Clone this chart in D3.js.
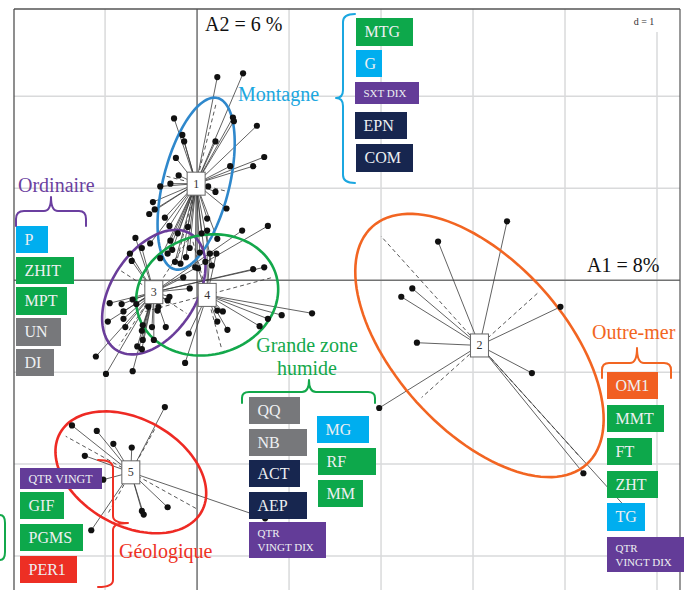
<!DOCTYPE html>
<html><head><meta charset="utf-8">
<script src="https://cdn.jsdelivr.net/npm/d3@7"></script>
<style>body{margin:0;background:#fff}svg{display:block}svg text{font-family:"Liberation Serif","Times New Roman","DejaVu Serif",serif}</style>
</head><body>
<svg id="c" width="685" height="590"></svg>
<script>
// ---------------- DATA ----------------
const classIds = ["1", "2", "3", "4", "5"];
const centerX = [-0.01, 3.07, -0.47, 0.11, -0.72];
const centerY = [1.05, -0.71, -0.13, -0.16, -2.09];
const ellipseA = [0.96, 1.74, 0.75, 0.78, 0.88];
const ellipseB = [0.36, 0.92, 0.46, 0.65, 0.58];
const ellipseAngle = [76, -48, 57, 15, -29];
const points1 = [[0.22,2.21],[0.50,2.25],[-0.25,1.76],[0.39,1.77],[0.40,1.73],[0.65,1.68],[-0.16,1.58],[-0.14,1.51],[0.20,1.51],[0.73,1.34],[-0.23,1.33],[0.36,1.24],[0.61,1.24],[-0.20,1.14],[-0.29,1.05],[-0.40,1.02],[0.12,1.02],[0.20,0.96],[-0.48,0.85],[0.32,0.78],[-0.46,0.77],[-0.52,0.72],[-0.35,0.68],[0.11,0.67],[-0.30,0.59],[-0.10,0.58],[0.05,0.51],[-0.29,0.43],[0.22,0.45],[-0.08,0.35],[-0.21,0.51],[-0.32,0.29],[-0.18,0.18],[-0.02,0.14],[-0.51,0.40],[-0.24,0.20],[0.09,0.20],[-0.40,0.24],[-0.12,0.25],[0.16,0.16],[-0.27,0.33],[0.03,0.30]];
const points2 = [[3.37,0.64],[2.62,0.42],[2.34,-0.09],[2.22,-0.18],[3.95,-0.29],[2.39,-0.68],[3.64,-1.01],[1.98,-1.39],[4.20,-2.10],[4.65,-2.46]];
const points3 = [[-0.67,0.46],[-0.60,0.35],[-0.73,0.29],[-0.71,0.21],[-0.95,-0.25],[-0.82,-0.26],[-0.80,-0.34],[-0.70,-0.21],[-0.66,-0.26],[-0.80,-0.42],[-0.97,-0.45],[-0.78,-0.51],[-0.59,-0.49],[-0.60,-0.55],[-0.59,-0.65],[-0.65,-0.72],[-1.10,-0.83],[-0.60,-0.75],[-0.47,-0.65],[-0.49,-0.51],[-0.99,-1.02],[-0.70,-0.99],[-0.30,-0.18],[-0.32,-0.22],[-0.43,-0.33],[-0.42,-0.29],[-0.34,-0.51],[-0.53,-0.29],[0.49,0.54],[0.77,0.59],[0.61,0.12],[0.73,0.14],[-0.08,-0.09],[-0.15,0.03]];
const points4 = [[1.25,-0.36],[0.92,-0.38],[0.77,-0.42],[0.68,-0.50],[0.33,-0.54],[0.28,-0.34],[0.22,-0.45],[0.22,-0.33],[-0.13,-0.90],[-0.09,-0.58],[0.11,0.54],[0.21,0.29],[0.14,0.29],[0.01,0.13]];
const points5 = [[-0.35,-1.38],[-1.36,-1.58],[-1.09,-1.64],[-0.91,-1.78],[-0.71,-1.82],[-1.22,-1.91],[-1.02,-2.17],[-0.32,-2.47],[-0.60,-2.51],[-0.58,-2.55],[-1.15,-2.72],[0.74,-2.59]];
const gridX = [-1, 0, 1, 2, 3, 4, 5];
const gridY = [-3, -2, -1, 0, 1, 2];
const xAxisTitle = "A1 = 8%";
const yAxisTitle = "A2 = 6 %";
const scaleText = "d = 1";
const groupNames = ["Montagne", "Ordinaire", "Grande zone\nhumide", "Outre-mer", "Géologique"];
const montagneItems = ["MTG", "G", "SXT DIX", "EPN", "COM"];
const montagneKinds = ["green", "blue", "purple", "navy", "navy"];
const ordinaireItems = ["P", "ZHIT", "MPT", "UN", "DI"];
const ordinaireKinds = ["blue", "green", "green", "gray", "gray"];
const humideItems = ["QQ", "NB", "ACT", "AEP", "QTR\nVINGT DIX", "MG", "RF", "MM"];
const humideKinds = ["gray", "gray", "navy", "navy", "purple", "blue", "green", "green"];
const outremerItems = ["OM1", "MMT", "FT", "ZHT", "TG", "QTR\nVINGT DIX"];
const outremerKinds = ["orange", "green", "green", "green", "blue", "purple"];
const geoItems = ["QTR VINGT", "GIF", "PGMS", "PER1"];
const geoKinds = ["purple", "green", "green", "red"];

// ---------------- LAYOUT / STYLE ----------------
const svg = d3.select("#c");
const F = "Liberation Serif, Times New Roman, DejaVu Serif, serif";
const frame = {l: 14, t: 9, r: 680, b: 590};
const x = d3.scaleLinear().domain([-1.99, 5.25]).range([frame.l, frame.r]);
const y = d3.scaleLinear().domain([2.95, -3.37]).range([frame.t, frame.b]);
const boxColor = {green: "#0DA84B", blue: "#00AEEF", purple: "#633C98", navy: "#17264F", gray: "#77787B", orange: "#F15F22", red: "#ED2F24"};
const ellColor = ["#2F88CC", "#F26522", "#6A3D9A", "#13A84B", "#EE2A24"];
const pointSets = [points1, points2, points3, points4, points5];

svg.append("clipPath").attr("id", "fr").append("rect")
  .attr("x", frame.l).attr("y", frame.t).attr("width", frame.r - frame.l).attr("height", frame.b - frame.t);
const plot = svg.append("g").attr("clip-path", "url(#fr)");

// grid
plot.selectAll(".gx").data(gridX).enter().append("line")
  .attr("x1", d => x(d)).attr("x2", d => x(d)).attr("y1", frame.t).attr("y2", frame.b)
  .attr("stroke", "#d9dadb").attr("stroke-width", 1.5);
plot.selectAll(".gy").data(gridY).enter().append("line")
  .attr("y1", d => y(d)).attr("y2", d => y(d)).attr("x1", frame.l).attr("x2", frame.r)
  .attr("stroke", "#d9dadb").attr("stroke-width", 1.5);
// scale box
plot.append("rect").attr("x", 622).attr("y", frame.t).attr("width", 60).attr("height", 23).attr("fill", "#fff");
plot.append("text").attr("x", 644).attr("y", 25).attr("text-anchor", "middle")
  .attr("font-family", F).attr("font-size", 10).attr("fill", "#333").text(scaleText);
// axes
plot.append("line").attr("x1", frame.l).attr("x2", frame.r).attr("y1", y(0)).attr("y2", y(0)).attr("stroke", "#444").attr("stroke-width", 1);
plot.append("line").attr("x1", x(0)).attr("x2", x(0)).attr("y1", frame.t).attr("y2", frame.b).attr("stroke", "#444").attr("stroke-width", 1);

// ellipse helpers
function ellPoint(i, t) {
  const th = ellipseAngle[i] * Math.PI / 180;
  const a = ellipseA[i], b = ellipseB[i];
  const ux = a * Math.cos(t), uy = b * Math.sin(t);
  return [centerX[i] + ux * Math.cos(th) - uy * Math.sin(th), centerY[i] + ux * Math.sin(th) + uy * Math.cos(th)];
}
const line = d3.line().x(d => x(d[0])).y(d => y(d[1]));

// dashed ellipse axes
classIds.forEach((c, i) => {
  const k = 0.92;
  [[0, Math.PI], [Math.PI / 2, 3 * Math.PI / 2]].forEach(([t1, t2]) => {
    const p1 = ellPoint(i, t1), p2 = ellPoint(i, t2);
    const q1 = [centerX[i] + (p1[0] - centerX[i]) * k, centerY[i] + (p1[1] - centerY[i]) * k];
    const q2 = [centerX[i] + (p2[0] - centerX[i]) * k, centerY[i] + (p2[1] - centerY[i]) * k];
    plot.append("path").attr("d", line([q1, q2])).attr("stroke", "#444").attr("stroke-width", 0.9)
      .attr("stroke-dasharray", "4,3").attr("fill", "none");
  });
});
// star lines
pointSets.forEach((pts, i) => {
  plot.append("g").selectAll("line").data(pts).enter().append("line")
    .attr("x1", x(centerX[i])).attr("y1", y(centerY[i]))
    .attr("x2", d => x(d[0])).attr("y2", d => y(d[1]))
    .attr("stroke", "#3a3a3a").attr("stroke-width", 0.8);
});
// coloured ellipses
classIds.forEach((c, i) => {
  const pts = d3.range(0, 2 * Math.PI + 0.01, Math.PI / 60).map(t => ellPoint(i, t));
  plot.append("path").attr("d", line(pts)).attr("fill", "none")
    .attr("stroke", ellColor[i]).attr("stroke-width", 2.6);
});
// points
pointSets.forEach((pts) => {
  plot.append("g").selectAll("circle").data(pts).enter().append("circle")
    .attr("cx", d => x(d[0])).attr("cy", d => y(d[1])).attr("r", 3.1).attr("fill", "#111");
});
// center labels
classIds.forEach((c, i) => {
  const g = plot.append("g");
  g.append("rect").attr("x", x(centerX[i]) - 9).attr("y", y(centerY[i]) - 11.5).attr("width", 18).attr("height", 23)
    .attr("fill", "#fff").attr("stroke", "#666").attr("stroke-width", 1);
  g.append("text").attr("x", x(centerX[i])).attr("y", y(centerY[i]) + 4).attr("text-anchor", "middle")
    .attr("font-family", F).attr("font-size", 12).attr("fill", "#333").text(c);
});

// frame
svg.append("line").attr("x1", frame.l).attr("x2", frame.r).attr("y1", frame.t).attr("y2", frame.t).attr("stroke", "#555").attr("stroke-width", 1.5);
svg.append("line").attr("x1", frame.l).attr("x2", frame.l).attr("y1", frame.t).attr("y2", frame.b).attr("stroke", "#444").attr("stroke-width", 1.2);
svg.append("line").attr("x1", frame.r).attr("x2", frame.r).attr("y1", frame.t).attr("y2", frame.b).attr("stroke", "#555").attr("stroke-width", 1.2);

// axis titles
svg.append("text").attr("x", 205).attr("y", 31).attr("font-family", F).attr("font-size", 20).attr("fill", "#111").text(yAxisTitle);
svg.append("text").attr("x", 587).attr("y", 272).attr("font-family", F).attr("font-size", 20).attr("fill", "#111").text(xAxisTitle);

// ---------------- ANNOTATION BOXES ----------------
function drawBoxes(items, kinds, rects) {
  items.forEach((lab, j) => {
    const [bx, by, bw, bh] = rects[j];
    svg.append("rect").attr("x", bx).attr("y", by).attr("width", bw).attr("height", bh).attr("fill", boxColor[kinds[j]]);
    const lines = lab.split("\n");
    const small = lab.length > 5;
    const fs = small ? (lines.length > 1 ? 11 : (lab === "QTR VINGT" ? 12 : 11)) : 16;
    const t = svg.append("text").attr("font-family", F).attr("font-size", fs).attr("fill", "#eef0f2");
    if (lines.length === 1) {
      t.attr("x", bx + 8.5).attr("y", by + bh / 2 + fs * 0.34).text(lab);
    } else {
      lines.forEach((ln, k) => {
        t.append("tspan").attr("x", bx + 8.5).attr("y", by + 15 + k * 14).text(ln);
      });
    }
  });
}
drawBoxes(montagneItems, montagneKinds, [[356,18,57,28],[356,50,26,27],[355,82,64,22],[355,112,52,27],[356,144,57,28]]);
drawBoxes(ordinaireItems, ordinaireKinds, [[16,226,32,27],[16,257,58,27],[16,287,51,28],[16,318,45,28],[16,349,38,27]]);
drawBoxes(humideItems, humideKinds, [[249,397,51,27],[249,429,58,27],[249,460,51,27],[249,492,58,27],[249,522,77,36],[317,416,52,27],[318,448,58,27],[318,480,45,27]]);
drawBoxes(outremerItems, outremerKinds, [[607,372,51,27],[607,405,57,27],[607,438,45,27],[607,471,51,27],[607,503,38,28],[607,537,77,35]]);
drawBoxes(geoItems, geoKinds, [[20,468,82,21],[20,492,44,27],[20,524,63,27],[20,556,57,27]]);

// group titles
const groupColor = ["#1BA7E0", "#6B3FA0", "#13A84B", "#F26522", "#EE3124"];
function gtext(txt, gx, gy, col, anchor) {
  svg.append("text").attr("x", gx).attr("y", gy).attr("font-family", F).attr("font-size", 20)
    .attr("fill", col).attr("text-anchor", anchor || "start").text(txt);
}
gtext(groupNames[0], 238, 101, groupColor[0]);
gtext(groupNames[1], 18, 192, groupColor[1]);
const gz = groupNames[2].split("\n");
gtext(gz[0], 307, 352, groupColor[2], "middle");
gtext(gz[1], 307, 375, groupColor[2], "middle");
gtext(groupNames[3], 592, 339, groupColor[3]);
gtext(groupNames[4], 119, 558, groupColor[4]);

// braces
function brace(d, col) {
  svg.append("path").attr("d", d).attr("fill", "none").attr("stroke", col).attr("stroke-width", 2)
    .attr("stroke-linejoin", "round").attr("stroke-linecap", "round");
}
brace("M355,14 Q343,14 343,22 L343,90 Q343,98 336,98 Q343,98 343,106 L343,175 Q343,183 355,183", groupColor[0]);
brace("M16,226 L16,219 Q16,211 24,211 L44,211 Q51,211 51,197 Q51,211 58,211 L79,211 Q86,211 86,219 L86,226", groupColor[1]);
brace("M242,403 L242,398 Q242,392 249,392 L302,392 Q309,392 309,380 Q309,392 316,392 L368,392 Q375,392 375,398 L375,403", groupColor[2]);
brace("M602,378 L602,370 Q602,363 609,363 L630,363 Q637,363 637,348 Q637,363 644,363 L664,363 Q671,363 671,370 L671,378", groupColor[3]);
brace("M98,460 Q113,460 113,468 L113,516 Q113,523 128,523 Q113,523 113,530 L113,580 Q113,587 98,587", groupColor[4]);
brace("M0,515 Q5,515 5,523 L5,552 Q5,560 0,560", groupColor[2]);
</script>
</body></html>
